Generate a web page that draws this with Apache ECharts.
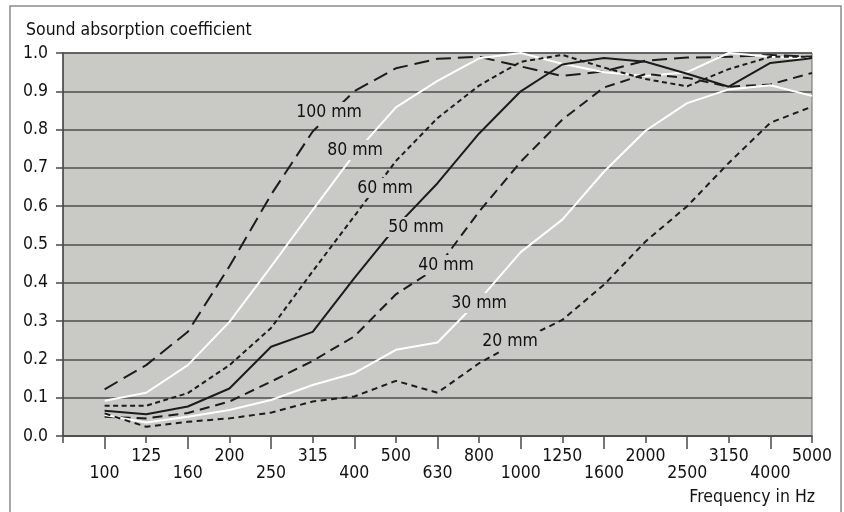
<!DOCTYPE html>
<html>
<head>
<meta charset="utf-8">
<script src="https://cdn.jsdelivr.net/npm/echarts@6/dist/echarts.min.js"></script>
<style>
html,body{margin:0;padding:0;background:#fff;}
#c{width:844px;height:512px;}
</style>
</head>
<body>
<div id="c"></div>
<script>
var freqs = ['100','125','160','200','250','315','400','500','630','800','1000','1250','1600','2000','2500','3150','4000','5000'];
var yTicks = [0,0.1,0.2,0.3,0.4,0.5,0.6,0.7,0.8,0.9,1.0];
var mm100 = [0.122,0.185,0.272,0.443,0.63,0.795,0.9,0.96,0.985,0.99,0.965,0.94,0.952,0.98,0.988,0.99,0.995,0.99];
var mm80  = [0.092,0.113,0.185,0.298,0.442,0.59,0.736,0.858,0.927,0.986,1.0,0.972,0.95,0.94,0.95,1.0,0.99,0.985];
var mm60  = [0.079,0.079,0.112,0.185,0.282,0.43,0.574,0.718,0.83,0.915,0.977,0.995,0.962,0.932,0.913,0.958,0.99,0.99];
var mm50  = [0.066,0.057,0.077,0.124,0.233,0.272,0.412,0.546,0.66,0.79,0.9,0.97,0.987,0.977,0.946,0.912,0.974,0.986];
var mm40  = [0.05,0.046,0.06,0.09,0.142,0.196,0.26,0.37,0.44,0.586,0.716,0.826,0.91,0.945,0.935,0.912,0.918,0.948];
var mm30  = [0.055,0.035,0.05,0.068,0.094,0.133,0.164,0.225,0.244,0.355,0.48,0.565,0.69,0.797,0.869,0.905,0.916,0.888];
var mm20  = [0.059,0.024,0.037,0.046,0.061,0.09,0.103,0.144,0.113,0.19,0.25,0.303,0.395,0.508,0.60,0.713,0.818,0.86];
var seriesNames = ['100 mm','80 mm','60 mm','50 mm','40 mm','30 mm','20 mm'];

var FONT = "'Liberation Sans Narrow','DejaVu Sans Condensed','Roboto',sans-serif";
var FS = 17.5;
var TXT = '#111';
var PLOT_BG = '#c9c9c6';
var cats = [''].concat(freqs);

function pad(arr){ return [null].concat(arr); }

var styles = [
  {color:'#1c1c1c', type:[15,7], width:2},
  {color:'#ffffff', type:'solid', width:2},
  {color:'#1c1c1c', type:[5,3.5], width:2},
  {color:'#1c1c1c', type:'solid', width:2},
  {color:'#1c1c1c', type:[10,6], width:2},
  {color:'#ffffff', type:'solid', width:2},
  {color:'#1c1c1c', type:[6,4.5], width:2}
];
var dataSets = [mm100, mm80, mm60, mm50, mm40, mm30, mm20];

var series = dataSets.map(function(d, i){
  return {
    name: seriesNames[i], type:'line', xAxisIndex:0, yAxisIndex:0,
    data: pad(d), symbol:'none', smooth:false, animation:false,
    lineStyle: {color: styles[i].color, type: styles[i].type, width: styles[i].width},
    z: 3
  };
});

// label anchor positions (pixel centres in the 844x512 frame)
var labelPos = [[329,112],[355,150],[385,188],[416,227],[446,265],[479,303],[510,341]];

var graphics = [
  {type:'rect', shape:{x:10, y:6, width:831, height:520}, style:{fill:'none', stroke:'#8a8a8a', lineWidth:1.5}, z:0, silent:true},
  {type:'text', x:26, y:30, style:{text:'Sound absorption coefficient', font: FS+'px '+FONT, fill:TXT, textAlign:'left', textVerticalAlign:'middle'}, z:100},
  {type:'text', x:815, y:497, style:{text:'Frequency in Hz', font: FS+'px '+FONT, fill:TXT, textAlign:'right', textVerticalAlign:'middle'}, z:100}
];
labelPos.forEach(function(p, i){
  graphics.push({type:'text', x:p[0], y:p[1], z:100,
    style:{text: seriesNames[i], font: FS+'px '+FONT, fill:TXT, textAlign:'center', textVerticalAlign:'middle',
           backgroundColor: PLOT_BG, padding:[1,3]}});
});

var chart = echarts.init(document.getElementById('c'), null, {renderer:'canvas'});
chart.setOption({
  animation:false,
  backgroundColor:'#ffffff',
  grid:{left:63, top:53, right:32, bottom:76, show:true, backgroundColor:PLOT_BG, borderColor:'#6a6a6a', borderWidth:1},
  xAxis:[
    {type:'category', data:cats, boundaryGap:false, position:'bottom',
     axisLine:{show:true, lineStyle:{color:'#4a4a4a', width:1.5}},
     axisTick:{show:true, length:7, interval:0, lineStyle:{color:'#4a4a4a', width:1.5}},
     axisLabel:{interval:function(i){return i>0 && i%2===0;}, margin:11, color:TXT, fontSize:FS, fontFamily:FONT},
     splitLine:{show:false}},
    {type:'category', data:cats, boundaryGap:false, position:'bottom',
     axisLine:{show:false},
     axisTick:{show:true, length:13, interval:function(i){return i%2===1;}, lineStyle:{color:'#4a4a4a', width:1.5}},
     axisLabel:{interval:function(i){return i%2===1;}, margin:28, color:TXT, fontSize:FS, fontFamily:FONT},
     splitLine:{show:false}}
  ],
  yAxis:{type:'value', min:yTicks[0], max:yTicks[yTicks.length-1], interval:0.1,
    axisLine:{show:true, lineStyle:{color:'#4a4a4a', width:1.5}},
    axisTick:{show:true, length:7, lineStyle:{color:'#4a4a4a', width:1.5}},
    axisLabel:{margin:15, color:TXT, fontSize:FS, fontFamily:FONT, formatter:function(v){return v.toFixed(1);}},
    splitLine:{show:true, lineStyle:{color:'#4d4d4d', width:1.5}}},
  series: series,
  graphic: graphics
});
</script>
</body>
</html>
